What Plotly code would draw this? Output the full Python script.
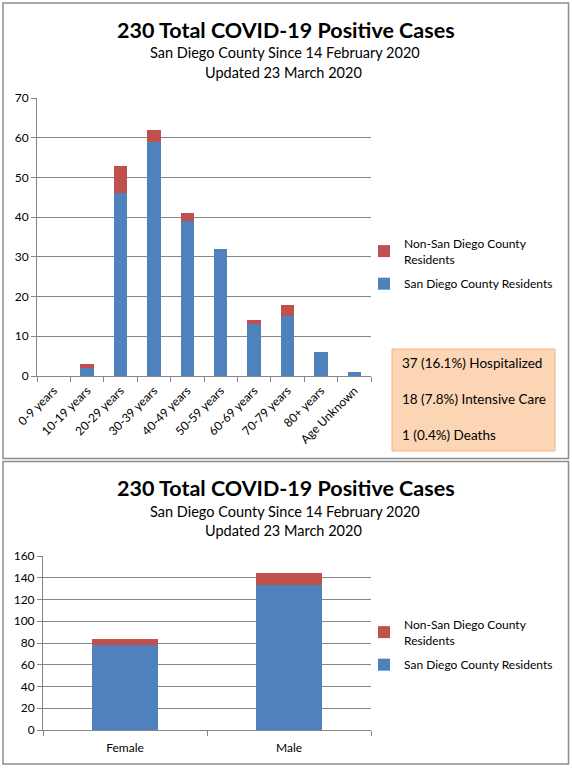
import plotly.graph_objects as go

age_groups = ["0-9 years", "10-19 years", "20-29 years", "30-39 years", "40-49 years",
              "50-59 years", "60-69 years", "70-79 years", "80+ years", "Age Unknown"]
age_sd = [0, 2, 46, 59, 39, 32, 13, 15, 6, 1]
age_non_sd = [0, 1, 7, 3, 2, 0, 1, 3, 0, 0]

genders = ["Female", "Male"]
gender_sd = [78, 133]
gender_non_sd = [6, 11]

outcome_lines = ["37 (16.1%) Hospitalized", "18 (7.8%) Intensive Care", "1 (0.4%) Deaths"]

title_txt = "230 Total COVID-19 Positive Cases"
sub1 = "San Diego County Since 14 February 2020"
sub2 = "Updated 23 March 2020"

BLUE = "#4F81BD"
RED = "#C0504D"
GRID = "#868686"
FONT = "Lato"
W, H = 572, 770

def px(x):
    return x / W

def py(y):
    return 1 - y / H

fig = go.Figure()
fig.add_trace(go.Bar(x=age_groups, y=age_sd, name="San Diego County Residents",
                     marker=dict(color=BLUE, line=dict(width=0)), xaxis="x", yaxis="y",
                     legend="legend", legendgroup="sd1", legendrank=2, width=0.4))
fig.add_trace(go.Bar(x=age_groups, y=age_non_sd, name="Non-San Diego County<br>Residents",
                     marker=dict(color=RED, line=dict(width=0)), xaxis="x", yaxis="y",
                     legend="legend", legendgroup="non1", legendrank=1, width=0.4))
fig.add_trace(go.Bar(x=genders, y=gender_sd, name="San Diego County Residents",
                     marker=dict(color=BLUE, line=dict(width=0)), xaxis="x2", yaxis="y2",
                     legend="legend2", legendgroup="sd2", legendrank=2, width=0.4))
fig.add_trace(go.Bar(x=genders, y=gender_non_sd, name="Non-San Diego County<br>Residents",
                     marker=dict(color=RED, line=dict(width=0)), xaxis="x2", yaxis="y2",
                     legend="legend2", legendgroup="non2", legendrank=1, width=0.4))

axis_common = dict(showline=True, linecolor=GRID, linewidth=1, ticks="outside",
                   tickcolor=GRID, ticklen=5, tickfont=dict(family=FONT, size=12, color="#000"),
                   zeroline=False, fixedrange=True, automargin=False)

leg_common = dict(xanchor="left", yanchor="top", font=dict(family=FONT, size=12, color="#000"),
                  bgcolor="rgba(0,0,0,0)", traceorder="grouped", itemwidth=30,
                  tracegroupgap=6, borderwidth=0)

fig.update_layout(
    width=W, height=H,
    margin=dict(l=0, r=0, t=0, b=0, pad=0, autoexpand=False),
    paper_bgcolor="white", plot_bgcolor="white",
    barmode="stack",
    showlegend=True,
    font=dict(family=FONT, size=12, color="#000"),
    xaxis=dict(domain=[px(37), px(371)], anchor="y", tickson="boundaries", tickangle=-45,
               showgrid=False, ticklabelstandoff=2, **axis_common),
    yaxis=dict(domain=[py(376), py(98)], anchor="x", range=[0, 70], dtick=10,
               showgrid=True, gridcolor=GRID, gridwidth=1, **axis_common),
    xaxis2=dict(domain=[px(43), px(371)], anchor="y2", tickson="boundaries",
                showgrid=False, ticklabelstandoff=7, **axis_common),
    yaxis2=dict(domain=[py(730), py(556)], anchor="x2", range=[0, 160], dtick=20,
                showgrid=True, gridcolor=GRID, gridwidth=1, **axis_common),
    legend=dict(x=px(364), y=py(229), **leg_common),
    legend2=dict(x=px(364), y=py(610), **leg_common),
)

shapes = [
    dict(type="rect", xref="paper", yref="paper", x0=px(3), x1=px(568.5), y0=py(458.5), y1=py(3),
         line=dict(color="#8c8c8c", width=1.5)),
    dict(type="rect", xref="paper", yref="paper", x0=px(3), x1=px(568.5), y0=py(764), y1=py(461.5),
         line=dict(color="#8c8c8c", width=1.5)),
    dict(type="rect", xref="paper", yref="paper", x0=px(392), x1=px(555), y0=py(451), y1=py(349),
         fillcolor="#FCD5B5", line=dict(color="#F4B183", width=1)),
]
fig.update_layout(shapes=shapes)

ann = []
for top in (0, 458):
    ann.append(dict(text="<b>" + title_txt + "</b>", x=px(286), y=py(30 + top), xref="paper", yref="paper",
                    showarrow=False, font=dict(family=FONT, size=21.5, color="#000"),
                    xanchor="center", yanchor="middle"))
    ann.append(dict(text=sub1, x=px(285), y=py(53 + top), xref="paper", yref="paper",
                    showarrow=False, font=dict(family=FONT, size=14.5, color="#000"),
                    xanchor="center", yanchor="middle"))
    ann.append(dict(text=sub2, x=px(283), y=py(72 + top), xref="paper", yref="paper",
                    showarrow=False, font=dict(family=FONT, size=14.5, color="#000"),
                    xanchor="center", yanchor="middle"))
for i, line in enumerate(outcome_lines):
    ann.append(dict(text=line, x=px(400), y=py(363 + 36 * i), xref="paper", yref="paper",
                    showarrow=False, font=dict(family=FONT, size=13.5, color="#000"),
                    xanchor="left", yanchor="middle"))
fig.update_layout(annotations=ann)

fig.write_html("out.html", config={"displayModeBar": False},
               post_script="document.body.style.margin='0';document.body.style.overflow='hidden';")
